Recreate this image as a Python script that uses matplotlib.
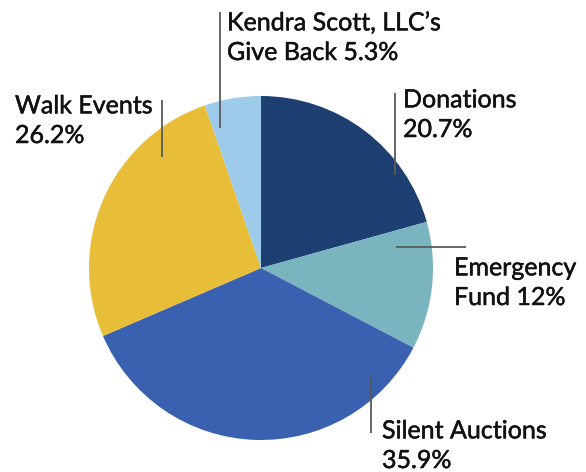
import matplotlib
matplotlib.use("Agg")
import matplotlib.pyplot as plt
import matplotlib.patheffects as pe

categories = ["Donations", "Emergency Fund", "Silent Auctions", "Walk Events", "Kendra Scott, LLC\u2019s Give Back"]
values = [20.7, 12.0, 35.9, 26.2, 5.3]
labels = ["Donations\n20.7%", "Emergency\nFund 12%", "Silent Auctions\n35.9%", "Walk Events\n26.2%", "Kendra Scott, LLC\u2019s\nGive Back 5.3%"]
colors = ["#1d3f72", "#79b4bf", "#3961af", "#e8bd38", "#9fcbea"]

W, H = 586, 472
fig = plt.figure(figsize=(W / 100, H / 100), dpi=100)
ax = fig.add_axes([0, 0, 1, 1])

cx, cy, r = 261, H - 268, 172
ax.pie(values, colors=colors, startangle=90, counterclock=False,
       center=(cx, cy), radius=r, frame=True,
       wedgeprops=dict(linewidth=0))
ax.set_xlim(0, W)
ax.set_ylim(0, H)
ax.set_aspect("equal")
ax.axis("off")

# label text positions (left x, last-line baseline y in px from top)
text_pos = [(403, 137), (454, 305), (382, 468), (15, 143), (227, 60)]
# leader lines (x0, y0, x1, y1) in px from top
leaders = [(395, 93, 395, 175), (396, 247, 466, 247), (371, 375, 371, 433),
           (162, 100, 162, 157), (220, 12, 220, 128)]

for lab, (tx, ty), (x0, y0, x1, y1) in zip(labels, text_pos, leaders):
    ax.plot([x0, x1], [H - y0, H - y1], color="#5a5a5a", lw=1.3, solid_capstyle="butt")
    t = ax.text(tx, H - ty, lab, ha="left", va="baseline", fontsize=18,
                family=["Lato", "DejaVu Sans"], color="#111111", linespacing=1.35)
    t.set_path_effects([pe.withStroke(linewidth=0.35, foreground="#111111")])

fig.savefig("out.png", dpi=100)
